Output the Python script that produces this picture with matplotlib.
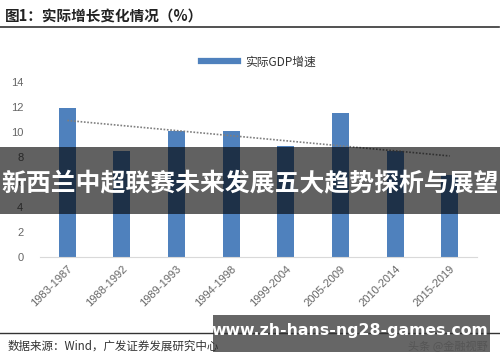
import matplotlib
matplotlib.use("Agg")
import matplotlib.pyplot as plt
import numpy as np
from matplotlib.patches import Rectangle
from matplotlib.lines import Line2D

plt.rcParams['font.family'] = ['Noto Sans CJK SC', 'DejaVu Sans']

periods = ["1983-1987", "1988-1992", "1989-1993", "1994-1998",
           "1999-2004", "2005-2009", "2010-2014", "2015-2019"]
gdp_growth = [11.9, 8.5, 10.1, 10.1, 8.9, 11.5, 8.5, 6.6]
y_ticks = [0, 2, 4, 6, 8, 10, 12, 14]

title = "图1：实际增长变化情况（%）"
legend_label = "实际GDP增速"
source = "数据来源：Wind，广发证券发展研究中心"
credit = "头条 @金融视野"
banner = "新西兰中超联赛未来发展五大趋势探析与展望"
watermark = "www.zh-hans-ng28-games.com"

bar_color = "#4f81bd"
tick_color = "#666666"

fig = plt.figure(figsize=(5, 3.62), dpi=100)
ax = fig.add_axes([0.08, 0.29, 0.874, 0.483])

x = np.arange(len(periods))
ax.bar(x, gdp_growth, width=0.31, color=bar_color, zorder=2)

# linear trend line
k, b = np.polyfit(x, gdp_growth, 1)
ax.plot(x, k * x + b, linestyle=(0, (1, 1)), color="#7f7f7f", lw=1.2, zorder=3)

ax.set_xlim(-0.5, len(periods) - 0.5)
ax.set_ylim(0, 14)
ax.set_yticks(y_ticks)
ax.set_yticklabels([str(v) for v in y_ticks], family="Liberation Sans")
ax.set_xticks(x)
ax.set_xticklabels(periods, rotation=45, ha="right", rotation_mode="anchor",
                   fontsize=8, color=tick_color, family="Liberation Sans")
ax.tick_params(axis="y", length=0, labelsize=8, labelcolor=tick_color, pad=12)
ax.tick_params(axis="x", length=0, pad=5)
for s in ["top", "right", "left"]:
    ax.spines[s].set_visible(False)
ax.spines["bottom"].set_color("#d9d9d9")

handle = Line2D([0], [0], color=bar_color, lw=4.5)
leg = ax.legend([handle], [legend_label], loc="center", bbox_to_anchor=(0.5, 1.115),
                frameon=False, fontsize=8.5, handlelength=3.2, handletextpad=0.6)
for t in leg.get_texts():
    t.set_color("#333333")

# header and footer
fig.text(0.01, 0.955, title, fontsize=10.5, fontweight="bold", color="#222222", va="center")
fig.add_artist(Line2D([0, 0.998], [0.926, 0.926], color="#333333", lw=1.2))
fig.add_artist(Line2D([0, 0.998], [0.08, 0.08], color="#333333", lw=1.0))
fig.text(0.016, 0.043, source, fontsize=8.3, color="#333333", va="center")
fig.text(0.975, 0.043, credit, fontsize=8, color="#555555", va="center", ha="right")

# overlay banner
fig.add_artist(Rectangle((0, 1 - 214 / 362), 1, 67 / 362, transform=fig.transFigure,
                         facecolor="black", alpha=0.62, edgecolor="none"))
fig.text(0.5, 1 - 184 / 362, banner, fontsize=17.9, fontweight="bold", color="white",
         ha="center", va="center")

# watermark box
fig.add_artist(Rectangle((213 / 500, 1 - 352 / 362), 277 / 500, 37 / 362,
                         transform=fig.transFigure, facecolor="black", alpha=0.6,
                         edgecolor="none"))
fig.text(350 / 500, 1 - 330 / 362, watermark, fontsize=11.3, fontweight="bold",
         color="white", ha="center", va="center", family="DejaVu Sans")

fig.savefig("out.png", dpi=100)
